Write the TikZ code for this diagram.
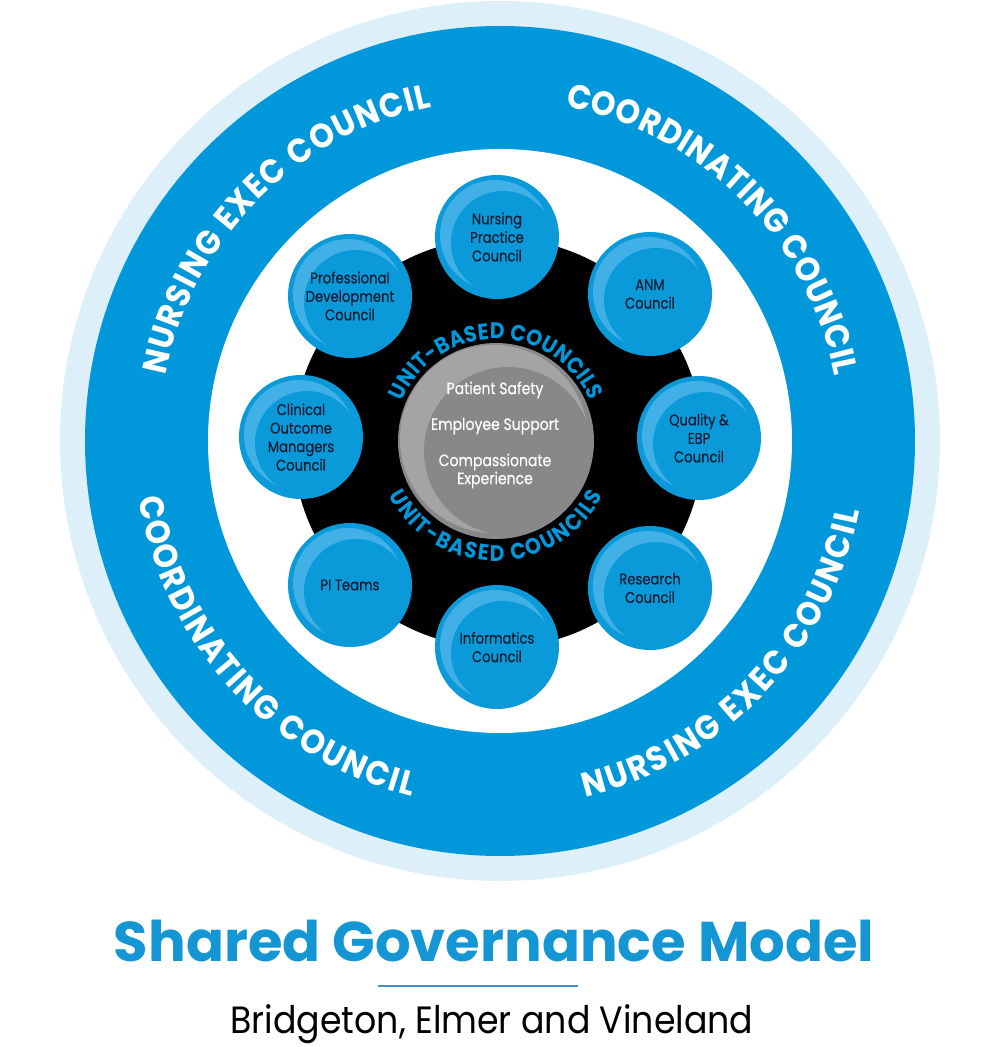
\documentclass[tikz,border=0pt]{standalone}
\usepackage{fontspec}
\setmainfont{Poppins}
\newfontfamily\popc[FakeStretch=0.85, FakeBold=0.35]{Poppins}
\newfontfamily\popb[FakeStretch=0.92]{Poppins}
\newfontfamily\popu[FakeStretch=0.9]{Poppins}
\newfontfamily\popt{Poppins}
\newfontfamily\subf[FakeStretch=0.915]{Poppins}
\usetikzlibrary{decorations.text}

\definecolor{ringblue}{RGB}{0,152,218}
\definecolor{ringlight}{RGB}{221,240,250}
\definecolor{bubblebase}{RGB}{10,154,218}
\definecolor{bubblelight}{RGB}{64,176,230}
\definecolor{coregray}{RGB}{136,136,136}
\definecolor{corelight}{RGB}{164,164,164}
\definecolor{navytext}{RGB}{22,28,48}
\definecolor{titleblue}{RGB}{20,150,212}
\definecolor{rulecol}{RGB}{70,140,200}

\begin{document}
\begin{tikzpicture}[x=1pt,y=1pt,
  disc/.style={circle, inner sep=0pt, outer sep=0pt},
  bubble/.style={disc, minimum size=124pt, fill=bubblebase, text=navytext, align=center,
    font=\popc\fontsize{15.5}{18.5}\selectfont,
    path picture={
      \fill[bubblelight] ([shift={(-2pt,2pt)}]path picture bounding box.center) circle (55pt);
      \fill[bubblebase] ([shift={(6pt,-6pt)}]path picture bounding box.center) circle (52pt);
    }},
  core/.style={disc, minimum size=196pt, fill=coregray,
    path picture={
      \fill[corelight] ([shift={(-2pt,2pt)}]path picture bounding box.center) circle (94pt);
      \fill[coregray] ([shift={(12pt,-10pt)}]path picture bounding box.center) circle (84pt);
    }},
  coretext/.style={text=white, align=center, inner sep=0pt, font=\popc\fontsize{16.5}{18}\selectfont},
  ringtext/.style={decorate, decoration={text along path, text align=fit to path,
    text={|\popb\bfseries\fontsize{34}{34}\selectfont\color{white}|#1}}},
  unittext/.style={decorate, decoration={text along path, text align=fit to path,
    text={|\popu\bfseries\fontsize{22.5}{22.5}\selectfont\color{ringblue}|#1}}}
]
\useasboundingbox (-500,-606) rectangle (500,441);

% rings
\node[disc, minimum size=880pt, fill=ringlight] (outer) at (0,0) {};
\node[disc, minimum size=830pt, fill=ringblue] (band) at (0,0) {};
\node[disc, minimum size=584pt, fill=white] (inner) at (0,0) {};
\node[disc, minimum size=410pt, fill=black] (hub) at (-2,-2) {};

% outer ring labels
\path[ringtext={NURSING EXEC COUNCIL}] (169:341) arc[start angle=169, end angle=101.5, radius=341];
\path[ringtext={COORDINATING COUNCIL}] (79:341) arc[start angle=79, end angle=11, radius=341];
\path[ringtext={COORDINATING COUNCIL}] (189:366) arc[start angle=189, end angle=256, radius=366];
\path[ringtext={NURSING EXEC COUNCIL}] (283.5:366) arc[start angle=283.5, end angle=349, radius=366];

% core
\node[core] (core) at (-4,0) {};
\path[unittext={UNIT-BASED COUNCILS}] ([shift={(157:102)}]-4,0) arc[start angle=157, end angle=23, radius=102];
\path[unittext={UNIT-BASED COUNCILS}] ([shift={(207:120)}]-4,0) arc[start angle=207, end angle=333, radius=120];
\node[coretext] (ps) at (-5,51) {Patient Safety};
\node[coretext] (es) at (-5,15) {Employee Support};
\node[coretext] (ce) at (-5,-30) {Compassionate\\Experience};

% councils
\node[bubble] (np) at (-3,204) {Nursing\\Practice\\Council};
\node[bubble] (anm) at (150,147) {ANM\\Council};
\node[bubble] (qe) at (199,3) {Quality \&\\EBP\\Council};
\node[bubble] (rc) at (150,-147) {Research\\Council};
\node[bubble] (ic) at (-3,-206) {Informatics\\Council};
\node[bubble] (pi) at (-150,-144) {PI Teams};
\node[bubble] (cl) at (-199,4) {Clinical\\Outcome\\Managers\\Council};
\node[bubble] (pd) at (-150,145) {Professional\\Development\\Council};

% title block
\node[font=\popt\bfseries\fontsize{56}{60}\selectfont, text=titleblue, anchor=base, inner sep=0pt] (title) at (-6,-520) {Shared Governance Model};
\coordinate (ruleL) at (-122,-545);
\coordinate (ruleR) at (78,-545);
\draw[rulecol, line width=1.2pt] (ruleL) -- (ruleR);
\node[font=\subf\fontsize{38}{44}\selectfont, text=black, anchor=base, inner sep=0pt] (sub) at (-8,-592) {Bridgeton, Elmer and Vineland};
\end{tikzpicture}
\end{document}
